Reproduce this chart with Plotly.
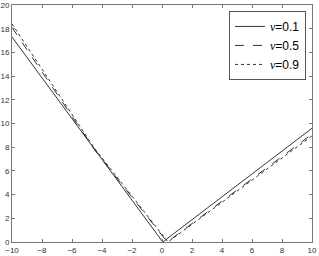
import plotly.graph_objects as go

# data
x_01 = [-10, -4.5, 0.05, 10]
y_01 = [17.3, 7.8, 0.0, 9.6]

x_05 = [-10, -4.5, 0.35, 10]
y_05 = [18.1, 7.8, 0.0, 9.1]

x_09 = [-10, -4.5, 0.4, 10]
y_09 = [18.4, 7.9, 0.0, 8.95]

names = ["0.1", "0.5", "0.9"]
dashes = ["solid", "dash", "dot"]

fig = go.Figure()
for xs, ys, nm, ds in zip([x_01, x_05, x_09], [y_01, y_05, y_09], names, dashes):
    fig.add_trace(go.Scatter(
        x=xs, y=ys, mode="lines",
        name='<span style="font-family:Liberation Serif"><i>ν</i></span>=' + nm,
        line=dict(color="black", width=0.8, dash=ds),
    ))

axis_common = dict(
    showgrid=False, zeroline=False, showline=True, mirror="allticks",
    linecolor="#777", linewidth=1, ticks="inside", ticklen=3, tickcolor="#777",
    tickfont=dict(family="Liberation Sans", size=8, color="#333"),
    automargin=False, ticklabeloverflow="allow",
)
fig.update_xaxes(range=[-10, 10], dtick=2, tick0=-10, **axis_common)
fig.update_yaxes(range=[0, 20], dtick=2, tick0=0, **axis_common)

fig.update_layout(
    width=319, height=256,
    margin=dict(l=12, r=7, t=5, b=14, autoexpand=False),
    plot_bgcolor="white", paper_bgcolor="white",
    legend=dict(
        x=0.98, y=0.975, xanchor="right", yanchor="top",
        bordercolor="#555", borderwidth=1, bgcolor="white",
        font=dict(family="Liberation Sans", size=12, color="black"),
        tracegroupgap=0, itemwidth=30,
    ),
)

fig.write_html("out.html", config={"displayModeBar": False},
               post_script="document.body.style.margin='0px';")
